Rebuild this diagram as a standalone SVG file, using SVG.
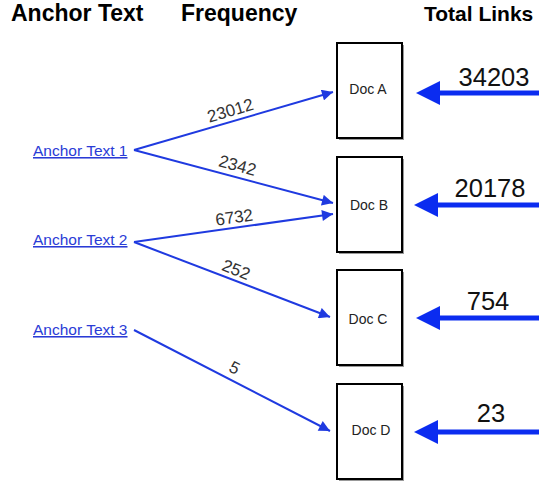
<svg xmlns="http://www.w3.org/2000/svg" width="539" height="481" viewBox="0 0 539 481">
  <style>
    .hdr { font: bold 23px "Liberation Sans", Arial, sans-serif; fill: #000; }
    .hdr.narrow { font-size: 21px; }
    .anchor { font: 15.5px "Liberation Sans", Arial, sans-serif; fill: #2a3bd6; text-decoration: underline; }
    .freq { font: 17px "Liberation Sans", Arial, sans-serif; fill: #333; text-anchor: middle; }
    .doc rect { fill: #fff; stroke: #000; stroke-width: 2; }
    .doc .shadow { fill: #999; stroke: none; }
    .doc text { font: 14px "Liberation Sans", Arial, sans-serif; fill: #222; text-anchor: middle; }
    .total { font: 25.5px "Liberation Sans", Arial, sans-serif; fill: #111; text-anchor: middle; }
    .link { stroke: #1f3ae0; stroke-width: 2; fill: none; marker-end: url(#thin); }
    .inlink { stroke: #0b2cf0; stroke-width: 5; fill: none; }
    .inhead { fill: #0b2cf0; }
  </style>
  <defs>
    <marker id="thin" viewBox="0 0 10 10" refX="10" refY="5" markerWidth="6" markerHeight="5.5" orient="auto" markerUnits="strokeWidth">
      <path d="M0,0 L10,5 L0,10 z" fill="#1f3ae0"/>
    </marker>
  </defs>

  <!-- column headings -->
  <text class="hdr" x="11" y="21">Anchor Text</text>
  <text class="hdr" x="181" y="21">Frequency</text>
  <text class="hdr narrow" x="424" y="21">Total Links</text>

  <!-- anchor texts -->
  <g id="anchor1"><text class="anchor" x="33" y="156">Anchor Text 1</text></g>
  <g id="anchor2"><text class="anchor" x="33" y="245">Anchor Text 2</text></g>
  <g id="anchor3"><text class="anchor" x="33" y="335">Anchor Text 3</text></g>

  <!-- documents -->
  <g id="docA" class="doc">
    <rect class="shadow" x="339" y="45" width="65" height="95"/>
    <rect x="337" y="43" width="65" height="95"/>
    <text x="368" y="94">Doc A</text>
  </g>
  <g id="docB" class="doc">
    <rect class="shadow" x="339" y="159" width="65" height="95"/>
    <rect x="337" y="157" width="65" height="95"/>
    <text x="369" y="210">Doc B</text>
  </g>
  <g id="docC" class="doc">
    <rect class="shadow" x="339" y="272" width="65" height="95"/>
    <rect x="337" y="270" width="65" height="95"/>
    <text x="368" y="324">Doc C</text>
  </g>
  <g id="docD" class="doc">
    <rect class="shadow" x="339" y="386" width="65" height="95"/>
    <rect x="337" y="384" width="65" height="95"/>
    <text x="371" y="435">Doc D</text>
  </g>

  <!-- connectors -->
  <g id="connectors">
    <line class="link" x1="134" y1="150" x2="333" y2="92"/>
    <line class="link" x1="134" y1="150" x2="333" y2="203"/>
    <line class="link" x1="134" y1="242" x2="333" y2="214"/>
    <line class="link" x1="134" y1="242" x2="330" y2="317"/>
    <line class="link" x1="134" y1="330" x2="330" y2="431"/>

    <text class="freq" transform="translate(232,116) rotate(-16.3)">23012</text>
    <text class="freq" transform="translate(236,171) rotate(15)">2342</text>
    <text class="freq" transform="translate(235,223) rotate(-8)">6732</text>
    <text class="freq" transform="translate(234,275) rotate(22)">252</text>
    <text class="freq" transform="translate(232,373) rotate(27)">5</text>

    <line class="inlink" x1="438" y1="93" x2="539" y2="93"/>
    <path class="inhead" d="M416,93 L440,81 L440,105 z"/>
    <line class="inlink" x1="436" y1="205" x2="539" y2="205"/>
    <path class="inhead" d="M414,205 L438,193 L438,217 z"/>
    <line class="inlink" x1="438" y1="318" x2="539" y2="318"/>
    <path class="inhead" d="M416,318 L440,306 L440,330 z"/>
    <line class="inlink" x1="436" y1="432" x2="539" y2="432"/>
    <path class="inhead" d="M414,432 L438,420 L438,444 z"/>

    <text class="total" x="494" y="86">34203</text>
    <text class="total" x="490" y="197">20178</text>
    <text class="total" x="488" y="310">754</text>
    <text class="total" x="491" y="422">23</text>
  </g>
</svg>
